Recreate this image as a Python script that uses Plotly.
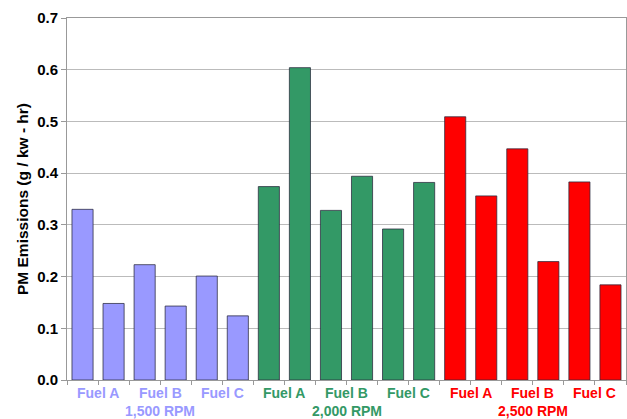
import plotly.graph_objects as go

# PM emissions per run: two runs per fuel, three fuels per engine speed
speeds = ["1,500 RPM", "2,000 RPM", "2,500 RPM"]
fuels = ["Fuel A", "Fuel B", "Fuel C"]
pm_1500 = [0.330, 0.148, 0.223, 0.143, 0.201, 0.124]
pm_2000 = [0.374, 0.604, 0.328, 0.394, 0.292, 0.382]
pm_2500 = [0.509, 0.356, 0.447, 0.229, 0.383, 0.184]
speed_colors = ["#9999FF", "#339966", "#FF0000"]
y_ticks = [0.0, 0.1, 0.2, 0.3, 0.4, 0.5, 0.6, 0.7]

FONT = "Arial, Liberation Sans, sans-serif"
series = [pm_1500, pm_2000, pm_2500]

fig = go.Figure()
pos = 0
for values, color in zip(series, speed_colors):
    xs = list(range(pos, pos + len(values)))
    fig.add_trace(go.Bar(
        x=xs, y=values,
        marker=dict(color=color, line=dict(color="rgba(40,40,60,0.75)", width=1)),
        showlegend=False, hoverinfo="y",
    ))
    pos += len(values)

n_bars = pos
annotations = []
idx = 0
for g, (speed, color) in enumerate(zip(speeds, speed_colors)):
    group_start = idx
    for f in fuels:
        annotations.append(dict(
            x=idx + 0.5, y=0, xref="x", yref="paper", yanchor="top",
            yshift=-3, text=f"<b>{f}</b>", showarrow=False,
            font=dict(family=FONT, size=14, color=color),
        ))
        idx += 2
    annotations.append(dict(
        x=(group_start + idx - 1) / 2, y=0, xref="x", yref="paper", yanchor="top",
        yshift=-21, text=f"<b>{speed}</b>", showarrow=False,
        font=dict(family=FONT, size=14, color=color),
    ))

fig.update_layout(
    width=627, height=419,
    margin=dict(l=67, r=1, t=18, b=39),
    paper_bgcolor="white", plot_bgcolor="white",
    bargap=0.32,
    annotations=annotations,
    xaxis=dict(
        range=[-0.5, n_bars - 0.5],
        tickvals=[i + 0.5 for i in range(-1, n_bars)],
        showticklabels=False,
        ticks="outside", ticklen=4, tickcolor="#999999",
        showgrid=False, zeroline=False,
        showline=True, linecolor="#999999", linewidth=1, mirror=True,
    ),
    yaxis=dict(
        range=[0, 0.7],
        tickvals=y_ticks, tickformat=".1f",
        tickfont=dict(family=FONT, size=15, color="black", weight="bold"),
        ticks="outside", ticklen=5, tickcolor="#999999",
        showgrid=True, gridcolor="#BBBBBB", gridwidth=1,
        zeroline=False,
        showline=True, linecolor="#999999", linewidth=1, mirror=True,
        title=dict(text="<b>PM Emissions (g / kw - hr)</b>",
                   font=dict(family=FONT, size=15.5, color="black"), standoff=4),
    ),
)

fig.write_html("out.html")
